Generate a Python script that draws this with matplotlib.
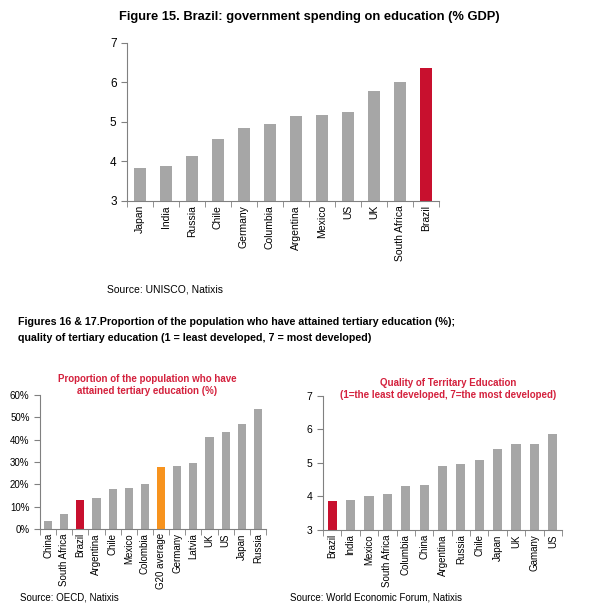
import numpy as np
import matplotlib.pyplot as plt
from matplotlib.ticker import FixedLocator, PercentFormatter

plt.rcParams['font.family'] = ['Liberation Sans', 'DejaVu Sans']

GREY = '#a6a6a6'
RED = '#c8102e'
ORANGE = '#f7931e'
TITLE_RED = '#d4213d'

# Figure 15
spend_countries = ['Japan', 'India', 'Russia', 'Chile', 'Germany', 'Columbia', 'Argentina',
                   'Mexico', 'US', 'UK', 'South Africa', 'Brazil']
spend_values = [3.84, 3.88, 4.14, 4.57, 4.85, 4.95, 5.15, 5.18, 5.25, 5.79, 6.02, 6.37]

# Figure 16
tert_countries = ['China', 'South Africa', 'Brazil', 'Argentina', 'Chile', 'Mexico', 'Colombia',
                  'G20 average', 'Germany', 'Latvia', 'UK', 'US', 'Japan', 'Russia']
tert_values = [3.6, 6.7, 13.0, 13.9, 17.9, 18.5, 20.1, 27.8, 28.2, 29.6, 41.2, 43.4, 47.0, 53.7]

# Figure 17
qual_countries = ['Brazil', 'India', 'Mexico', 'South Africa', 'Columbia', 'China', 'Argentina',
                  'Russia', 'Chile', 'Japan', 'UK', 'Gamany', 'US']
qual_values = [3.86, 3.90, 4.02, 4.08, 4.32, 4.35, 4.92, 4.98, 5.10, 5.42, 5.56, 5.56, 5.87]


def style_axes(ax, labels, fs, yfs):
    n = len(labels)
    ax.set_xlim(-0.5, n - 0.5)
    ax.set_xticks(range(n))
    ax.set_xticklabels(labels, rotation=90, fontsize=fs)
    ax.tick_params(axis='x', which='major', length=0, pad=3)
    ax.xaxis.set_minor_locator(FixedLocator(np.arange(-0.5, n, 1.0)))
    ax.tick_params(axis='x', which='minor', length=4, color='#808080', direction='out')
    ax.tick_params(axis='y', length=4, color='#808080', labelsize=yfs)
    for s in ['top', 'right']:
        ax.spines[s].set_visible(False)
    for s in ['left', 'bottom']:
        ax.spines[s].set_color('#808080')
        ax.spines[s].set_linewidth(0.8)


def bar_colors(labels, special):
    return [special.get(c, GREY) for c in labels]


fig = plt.figure(figsize=(6.15, 6.12), dpi=100)

fig.text(0.503, 0.972, 'Figure 15. Brazil: government spending on education (% GDP)',
         ha='center', va='center', fontsize=9.3, fontweight='bold')

ax1 = fig.add_axes([0.2065, 0.6716, 0.5073, 0.2582])
ax1.bar(range(len(spend_countries)), np.array(spend_values) - 3, bottom=3, width=0.43,
        color=bar_colors(spend_countries, {'Brazil': RED}))
ax1.set_ylim(3, 7)
ax1.set_yticks([3, 4, 5, 6, 7])
style_axes(ax1, spend_countries, 7.5, 8.5)
fig.text(107 / 615, 1 - 289 / 612, 'Source: UNISCO, Natixis', fontsize=7.5, va='center')

fig.text(18 / 615, 1 - 322 / 612,
         'Figures 16 & 17.Proportion of the population who have attained tertiary education (%);',
         fontsize=7.7, fontweight='bold', va='center')
fig.text(18 / 615, 1 - 338 / 612,
         'quality of tertiary education (1 = least developed, 7 = most developed)',
         fontsize=7.7, fontweight='bold', va='center')

ax2 = fig.add_axes([0.065, 0.1356, 0.3675, 0.219])
ax2.bar(range(len(tert_countries)), tert_values, width=0.5,
        color=bar_colors(tert_countries, {'Brazil': RED, 'G20 average': ORANGE}))
ax2.set_ylim(0, 60)
ax2.set_yticks(range(0, 61, 10))
ax2.yaxis.set_major_formatter(PercentFormatter(decimals=0))
style_axes(ax2, tert_countries, 7, 7)
fig.text(147 / 615, 1 - 385 / 612,
         'Proportion of the population who have\nattained tertiary education (%)',
         ha='center', va='center', color=TITLE_RED, fontsize=7, fontweight='bold',
         linespacing=1.25)
fig.text(20 / 615, 1 - 597 / 612, 'Source: OECD, Natixis', fontsize=7, va='center')

ax3 = fig.add_axes([0.5252, 0.134, 0.3886, 0.219])
ax3.bar(range(len(qual_countries)), np.array(qual_values) - 3, bottom=3, width=0.5,
        color=bar_colors(qual_countries, {'Brazil': RED}))
ax3.set_ylim(3, 7)
ax3.set_yticks([3, 4, 5, 6, 7])
style_axes(ax3, qual_countries, 7, 7.5)
fig.text(448 / 615, 1 - 389.5 / 612,
         'Quality of Territary Education\n(1=the least developed, 7=the most developed)',
         ha='center', va='center', color=TITLE_RED, fontsize=7, fontweight='bold',
         linespacing=1.25)
fig.text(290 / 615, 1 - 597 / 612, 'Source: World Economic Forum, Natixis', fontsize=7, va='center')

fig.savefig('out.png', dpi=100)
